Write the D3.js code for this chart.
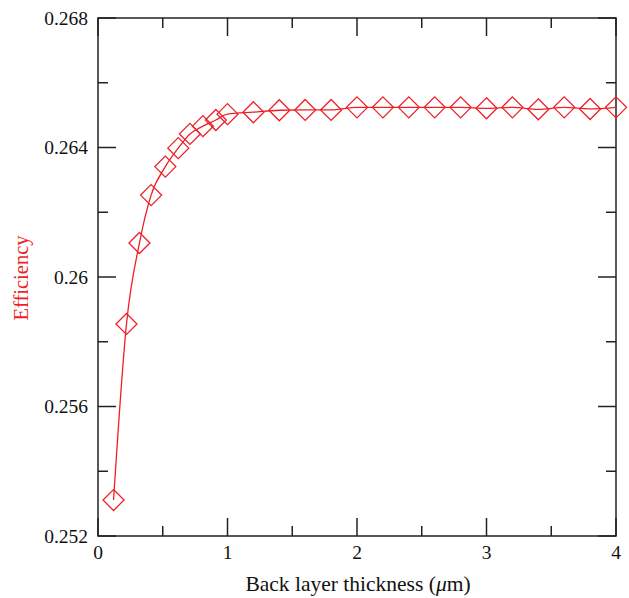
<!DOCTYPE html>
<html>
<head>
<meta charset="utf-8">
<script src="https://cdn.jsdelivr.net/npm/d3@7"></script>
<style>
  html, body { margin: 0; padding: 0; background: #fff; }
  svg { display: block; }
  text { font-family: "Liberation Serif", "DejaVu Serif", serif; }
</style>
</head>
<body>
<svg id="chart" width="629" height="598"></svg>
<script>
// Back layer thickness (µm)
const thickness = [0.12, 0.22, 0.32, 0.41, 0.52, 0.62, 0.71, 0.81, 0.91, 1.0,
                   1.2, 1.4, 1.6, 1.8, 2.0, 2.2, 2.4, 2.6, 2.8, 3.0,
                   3.2, 3.4, 3.6, 3.8, 4.0];
// Cell efficiency
const efficiency = [0.25311, 0.25855, 0.26105, 0.26253, 0.26341, 0.26398, 0.26442, 0.26466, 0.26485, 0.26503,
                    0.26509, 0.26515, 0.26516, 0.26516, 0.26524, 0.26524, 0.26524, 0.26524, 0.26524, 0.26521,
                    0.26524, 0.26518, 0.26524, 0.26519, 0.26524];

const xMajorTicks = [0, 1, 2, 3, 4];
const xMinorTicks = [0.5, 1.5, 2.5, 3.5];
const yMajorTicks = [0.252, 0.256, 0.26, 0.264, 0.268];
const yTickLabels = ["0.252", "0.256", "0.26", "0.264", "0.268"];
const yMinorTicks = [0.254, 0.258, 0.262, 0.266];

const red = "#ee1f26";
const ink = "#222";
const margin = { left: 98, right: 13, top: 18, bottom: 62 };
const W = 629, H = 598;

const svg = d3.select("#chart");
const x = d3.scaleLinear().domain([0, 4]).range([margin.left, W - margin.right]);
const y = d3.scaleLinear().domain([0.252, 0.268]).range([H - margin.bottom, margin.top]);

const majorLen = 18, minorLen = 10;
const x0 = x.range()[0], x1 = x.range()[1];
const y0 = y.range()[0], y1 = y.range()[1];

const ticks = svg.append("g").attr("stroke", ink).attr("stroke-width", 1.5);

// Inward ticks on all four sides
function xTicks(vals, len) {
  vals.forEach(v => {
    ticks.append("line").attr("x1", x(v)).attr("x2", x(v)).attr("y1", y0).attr("y2", y0 - len);
    ticks.append("line").attr("x1", x(v)).attr("x2", x(v)).attr("y1", y1).attr("y2", y1 + len);
  });
}
function yTicks(vals, len) {
  vals.forEach(v => {
    ticks.append("line").attr("y1", y(v)).attr("y2", y(v)).attr("x1", x0).attr("x2", x0 + len);
    ticks.append("line").attr("y1", y(v)).attr("y2", y(v)).attr("x1", x1).attr("x2", x1 - len);
  });
}
xTicks(xMajorTicks, majorLen);
xTicks(xMinorTicks, minorLen);
yTicks(yMajorTicks, majorLen);
yTicks(yMinorTicks, minorLen);

// Plot frame
svg.append("rect")
  .attr("x", x0).attr("y", y1)
  .attr("width", x1 - x0).attr("height", y0 - y1)
  .attr("fill", "none").attr("stroke", ink).attr("stroke-width", 1.5);

// Tick labels
svg.append("g").selectAll("text").data(xMajorTicks).join("text")
  .attr("x", d => x(d)).attr("y", y0 + 23)
  .attr("text-anchor", "middle").attr("font-size", 19.5).attr("fill", "#111")
  .text(d => d);

svg.append("g").selectAll("text").data(yMajorTicks).join("text")
  .attr("x", x0 - 10).attr("y", d => y(d) + 6.5)
  .attr("text-anchor", "end").attr("font-size", 19.5).attr("fill", "#111")
  .text((d, i) => yTickLabels[i]);

// Axis titles
svg.append("text")
  .attr("x", (x0 + x1) / 2 + 1).attr("y", 591)
  .attr("text-anchor", "middle").attr("font-size", 21.5).attr("fill", "#111")
  .html('Back layer thickness (<tspan font-style="italic">μ</tspan>m)');

svg.append("text")
  .attr("transform", `translate(28, ${(y0 + y1) / 2 + 1}) rotate(-90)`)
  .attr("text-anchor", "middle").attr("font-size", 20.5).attr("fill", red)
  .text("Efficiency");

// Data series
const pts = thickness.map((t, i) => [t, efficiency[i]]);

svg.append("path")
  .datum(pts)
  .attr("fill", "none").attr("stroke", red).attr("stroke-width", 1.3)
  .attr("d", d3.line().x(d => x(d[0])).y(d => y(d[1])).curve(d3.curveMonotoneX));

const r = 10.5;
svg.append("g").selectAll("path").data(pts).join("path")
  .attr("fill", "none").attr("stroke", red).attr("stroke-width", 1.3)
  .attr("d", d => {
    const cx = x(d[0]), cy = y(d[1]);
    return `M${cx},${cy - r}L${cx + r},${cy}L${cx},${cy + r}L${cx - r},${cy}Z`;
  });
</script>
</body>
</html>
